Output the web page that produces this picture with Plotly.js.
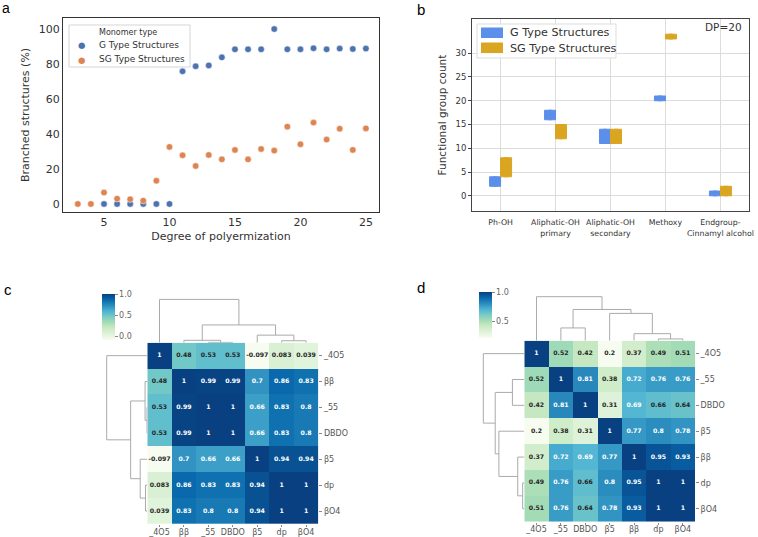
<!DOCTYPE html>
<html><head><meta charset="utf-8">
<script src="https://cdn.plot.ly/plotly-3.0.1.min.js"></script>
<style>html,body{margin:0;padding:0;background:#fff}#chart{width:758px;height:537px}</style>
</head><body><div id="chart"></div>
<script>
// ---------- Panel a data ----------
const dpG = [5,6,7,8,9,10,11,12,13,14,15,16,17,18,19,20,21,22,23,24,25];
const branchG = [0,0,0,0,0,0,75.8,78.7,79.2,83.8,88.4,88.4,88.4,100,88.4,88.4,89,88.4,88.8,88.6,88.8];
const dpSG = [3,4,5,6,7,8,9,10,11,12,13,14,15,16,17,18,19,20,21,22,23,24,25];
const branchSG = [0,0,6.5,3.0,2.7,1.9,13.3,32.6,27.8,21.7,28,25.5,30.9,25.5,31.4,30.5,44.2,34.1,46.5,36.8,43,30.9,43.2];
const seriesNames = ['G Type Structures','SG Type Structures'];
const legendTitleA = 'Monomer type';

// ---------- Panel b data ----------
const groups = ['Ph-OH','Aliphatic-OH<br>primary','Aliphatic-OH<br>secondary','Methoxy','Endgroup-<br>Cinnamyl alcohol'];
const gQ1 = [2,16,11,20,0];
const gMed = [3,17,12,20.5,0.5];
const gQ3 = [4,18,14,21,1];
const sgQ1 = [4,12,11,33,0];
const sgMed = [6,13,12,33.5,1];
const sgQ3 = [8,15,14,34,2];

// ---------- Panel c data ----------
const labelsC = ['_4O5','ββ','_55','DBDO','β5','dp','βO4'];
const corrC = [
  [1,0.48,0.53,0.53,-0.097,0.083,0.039],
  [0.48,1,0.99,0.99,0.7,0.86,0.83],
  [0.53,0.99,1,1,0.66,0.83,0.8],
  [0.53,0.99,1,1,0.66,0.83,0.8],
  [-0.097,0.7,0.66,0.66,1,0.94,0.94],
  [0.083,0.86,0.83,0.83,0.94,1,1],
  [0.039,0.83,0.8,0.8,0.94,1,1]
];
const linkC = [[2,3,0.007],[5,6,0.045],[1,7,0.055],[4,8,0.175],[9,10,0.41],[0,11,1.0]];

// ---------- Panel d data ----------
const labelsD = ['_4O5','_55','DBDO','β5','ββ','dp','βO4'];
const corrD = [
  [1,0.52,0.42,0.2,0.37,0.49,0.51],
  [0.52,1,0.81,0.38,0.72,0.76,0.76],
  [0.42,0.81,1,0.31,0.69,0.66,0.64],
  [0.2,0.38,0.31,1,0.77,0.8,0.78],
  [0.37,0.72,0.69,0.77,1,0.95,0.93],
  [0.49,0.76,0.66,0.8,0.95,1,1],
  [0.51,0.76,0.64,0.78,0.93,1,1]
];
const linkD = [[5,6,0.04],[4,7,0.16],[1,2,0.29],[3,8,0.62],[9,10,0.71],[0,11,1.0]];

// ---------- helpers ----------
const W = 758, H = 537;
const X = p => p / W;
const Y = p => 1 - p / H;
const colA = ['#4C72B0','#DD8452'];
const colB = ['#5b8fe9','#daa520'];
const gnbu = ['#f7fcf0','#e0f3db','#ccebc5','#a8ddb5','#7bccc4','#4eb3d3','#2b8cbe','#0868ac','#084081'];
const gnbuScale = gnbu.map((c, i) => [i / (gnbu.length - 1), c]);
function hex2rgb(h){return [parseInt(h.slice(1,3),16),parseInt(h.slice(3,5),16),parseInt(h.slice(5,7),16)];}
function cmap(t){
  t = Math.max(0, Math.min(1, t));
  const s = t * (gnbu.length - 1);
  const i = Math.min(gnbu.length - 2, Math.floor(s));
  const f = s - i;
  const a = hex2rgb(gnbu[i]), b = hex2rgb(gnbu[i+1]);
  return a.map((v, k) => v + (b[k] - v) * f);
}
function lum(rgb){
  const l = rgb.map(c => { c = c / 255; return c <= 0.03928 ? c / 12.92 : Math.pow((c + 0.055) / 1.055, 2.4); });
  return 0.2126 * l[0] + 0.7152 * l[1] + 0.0722 * l[2];
}
function fmt(v){ return String(Number(v.toPrecision(2))); }
function dendro(link, n){
  const pos = [], hgt = [];
  for (let i = 0; i < n; i++){ pos[i] = i; hgt[i] = 0; }
  const a = [], b = [];
  link.forEach((m, k) => {
    const l = m[0], r = m[1], h = m[2];
    a.push(pos[l], pos[l], pos[r], pos[r], null);
    b.push(hgt[l], h, h, hgt[r], null);
    pos[n + k] = (pos[l] + pos[r]) / 2; hgt[n + k] = h;
  });
  return {a, b};
}
function cellText(corr, xa, ya){
  const flat = corr.flat();
  const zmin = Math.min(...flat), zmax = Math.max(...flat);
  const xs = [], ys = [], tx = [], cols = [];
  corr.forEach((row, i) => row.forEach((v, j) => {
    xs.push(j); ys.push(i); tx.push(fmt(v));
    cols.push(lum(cmap((v - zmin) / (zmax - zmin))) > 0.408 ? '#262626' : '#ffffff');
  }));
  return {type:'scatter', mode:'text', x:xs, y:ys, text:tx, xaxis:xa, yaxis:ya,
    textfont:{size:6.2, color:cols, family:'DejaVu Sans', weight:'bold'},
    hoverinfo:'skip', showlegend:false};
}

const traces = [];
// Panel a
traces.push({type:'scatter', mode:'markers', x:dpG, y:branchG, name:seriesNames[0],
  marker:{color:colA[0], size:6.5, line:{color:'#fff', width:0.5}}, xaxis:'x', yaxis:'y'});
traces.push({type:'scatter', mode:'markers', x:dpSG, y:branchSG, name:seriesNames[1],
  marker:{color:colA[1], size:6.5, line:{color:'#fff', width:0.5}}, xaxis:'x', yaxis:'y'});

// Panel b
traces.push({type:'box', name:seriesNames[0], x:groups, q1:gQ1, median:gMed, q3:gQ3,
  lowerfence:gQ1, upperfence:gQ3, fillcolor:colB[0], line:{color:colB[0], width:1},
  whiskerwidth:0.3, xaxis:'x2', yaxis:'y2', hoverinfo:'skip'});
traces.push({type:'box', name:seriesNames[1], x:groups, q1:sgQ1, median:sgMed, q3:sgQ3,
  lowerfence:sgQ1, upperfence:sgQ3, fillcolor:colB[1], line:{color:colB[1], width:1},
  whiskerwidth:0.3, xaxis:'x2', yaxis:'y2', hoverinfo:'skip'});

// Panel c
const zc = corrC.flat();
traces.push({type:'heatmap', z:corrC, x:labelsC.map((_, i) => i), y:labelsC.map((_, i) => i),
  colorscale:gnbuScale, zmin:Math.min(...zc), zmax:Math.max(...zc), xaxis:'x3', yaxis:'y3', hoverinfo:'skip',
  colorbar:{x:X(102), xanchor:'left', y:Y(294.3), yanchor:'top', len:46, lenmode:'pixels',
    thickness:13, thicknessmode:'pixels', xpad:0, ypad:0, outlinewidth:0,
    tickvals:[0,0.5,1], tickformat:'.1f', ticks:'outside', ticklen:3, tickcolor:'#888',
    tickfont:{size:8, color:'#666'}}});
traces.push(cellText(corrC, 'x3', 'y3'));
const dC = dendro(linkC, labelsC.length);
traces.push({type:'scatter', mode:'lines', x:dC.a, y:dC.b, xaxis:'x4', yaxis:'y4',
  line:{color:'#aaaaaa', width:1}, hoverinfo:'skip', showlegend:false});
traces.push({type:'scatter', mode:'lines', x:dC.b, y:dC.a, xaxis:'x5', yaxis:'y5',
  line:{color:'#aaaaaa', width:1}, hoverinfo:'skip', showlegend:false});

// Panel d
const zd = corrD.flat();
traces.push({type:'heatmap', z:corrD, x:labelsD.map((_, i) => i), y:labelsD.map((_, i) => i),
  colorscale:gnbuScale, zmin:Math.min(...zd), zmax:Math.max(...zd), xaxis:'x6', yaxis:'y6', hoverinfo:'skip',
  colorbar:{x:X(479), xanchor:'left', y:Y(292.3), yanchor:'top', len:46, lenmode:'pixels',
    thickness:13, thicknessmode:'pixels', xpad:0, ypad:0, outlinewidth:0,
    tickvals:[0.5,1], tickformat:'.1f', ticks:'outside', ticklen:3, tickcolor:'#888',
    tickfont:{size:8, color:'#666'}}});
traces.push(cellText(corrD, 'x6', 'y6'));
const dD = dendro(linkD, labelsD.length);
traces.push({type:'scatter', mode:'lines', x:dD.a, y:dD.b, xaxis:'x7', yaxis:'y7',
  line:{color:'#aaaaaa', width:1}, hoverinfo:'skip', showlegend:false});
traces.push({type:'scatter', mode:'lines', x:dD.b, y:dD.a, xaxis:'x8', yaxis:'y8',
  line:{color:'#aaaaaa', width:1}, hoverinfo:'skip', showlegend:false});

const hmX = (dom, anchor, labels) => ({domain:dom, anchor:anchor, range:[-0.5, labels.length - 0.5],
  tickvals:labels.map((_, i) => i), ticktext:labels, ticks:'outside', ticklen:2, tickcolor:'#888',
  ticklabelstandoff:-2,
  showgrid:false, zeroline:false, showline:false, tickfont:{size:8, color:'#555'}});
const hmY = (dom, anchor, labels) => ({domain:dom, anchor:anchor, range:[labels.length - 0.5, -0.5],
  side:'right', tickvals:labels.map((_, i) => i), ticktext:labels, ticks:'outside', ticklen:3, tickcolor:'#888',
  showgrid:false, zeroline:false, showline:false, tickfont:{size:8, color:'#555'}});
const hid = (dom, anchor, range) => ({domain:dom, anchor:anchor, range:range, visible:false, showgrid:false, zeroline:false});

const scC = 43.3, srC = 40.6, scD = 44, srD = 41, ext = 1.15;

// manual legends (shapes + text)
const shapes = [
  {type:'rect', xref:'paper', yref:'paper', x0:X(69), x1:X(190), y0:Y(67), y1:Y(25),
   line:{color:'#d5d5d5', width:1}, fillcolor:'rgba(255,255,255,0.85)', layer:'above'},
  {type:'rect', xref:'paper', yref:'paper', x0:X(477), x1:X(616), y0:Y(58), y1:Y(24),
   line:{color:'#dddddd', width:1}, fillcolor:'rgba(255,255,255,0.85)', layer:'above'},
  {type:'rect', xref:'paper', yref:'paper', x0:X(481), x1:X(503), y0:Y(38), y1:Y(27.5),
   line:{width:0}, fillcolor:colB[0], layer:'above'},
  {type:'rect', xref:'paper', yref:'paper', x0:X(481), x1:X(503), y0:Y(53), y1:Y(42.5),
   line:{width:0}, fillcolor:colB[1], layer:'above'}
];
const ann = (text, px, py, opts) => Object.assign({text, x:X(px), y:Y(py), xref:'paper', yref:'paper',
  xanchor:'left', yanchor:'middle', showarrow:false}, opts);
const annotations = [
  ann('a', 0, 8, {font:{size:14, color:'#000', family:'Liberation Sans'}}),
  ann('b', 415, 9, {font:{size:15, color:'#000', family:'Liberation Sans'}}),
  ann('c', 2, 289, {font:{size:15, color:'#000', family:'Liberation Sans'}}),
  ann('d', 415, 287, {font:{size:15, color:'#000', family:'Liberation Sans'}}),
  ann('DP=20', 723, 26.7, {xanchor:'center', font:{size:10.5, color:'#333'}}),
  ann(legendTitleA, 97, 32, {font:{size:8, color:'#333'}}),
  ann('●', 81, 45.5, {xanchor:'center', font:{size:8.5, color:colA[0]}}),
  ann('●', 81, 59.5, {xanchor:'center', font:{size:8.5, color:colA[1]}}),
  ann(seriesNames[0], 97, 45.3, {font:{size:9, color:'#333'}}),
  ann(seriesNames[1], 97, 59.3, {font:{size:9, color:'#333'}}),
  ann(seriesNames[0], 508, 33, {font:{size:11.2, color:'#333'}}),
  ann(seriesNames[1], 508, 48, {font:{size:11.2, color:'#333'}})
];

const layout = {
  width:W, height:H, margin:{l:0, r:0, t:0, b:0}, paper_bgcolor:'#fff', plot_bgcolor:'#fff',
  font:{family:'DejaVu Sans', color:'#333'}, hovermode:false, showlegend:false,
  boxmode:'group', boxgap:0.6, boxgroupgap:0,
  xaxis:{domain:[X(63), X(379)], anchor:'y', range:[1.87, 26.0], tickvals:[5,10,15,20,25],
    showline:true, mirror:true, linecolor:'#333', linewidth:1, showgrid:false, zeroline:false, ticks:'',
    tickfont:{size:11, color:'#333'}, title:{text:'Degree of polyermization', font:{size:11, color:'#333'}, standoff:4}},
  yaxis:{domain:[Y(212), Y(18)], anchor:'x', range:[-4.6, 106.3], tickvals:[0,20,40,60,80,100],
    showline:true, mirror:true, linecolor:'#333', linewidth:1, showgrid:false, zeroline:false, ticks:'',
    tickfont:{size:11, color:'#333'}, title:{text:'Branched structures (%)', font:{size:11, color:'#333'}, standoff:6}},
  xaxis2:{domain:[X(472), X(749)], anchor:'y2', type:'category', range:[-0.52, 4.52],
    showline:true, mirror:true, linecolor:'#444', linewidth:1, showgrid:true, gridcolor:'#dcdcdc', zeroline:false,
    ticks:'', tickangle:0, ticklabelstandoff:4, tickfont:{size:7.8, color:'#333'}},
  yaxis2:{domain:[Y(211), Y(19)], anchor:'x2', range:[-3.2, 37.2], tickvals:[0,5,10,15,20,25,30],
    showline:true, mirror:true, linecolor:'#444', linewidth:1, showgrid:true, gridcolor:'#dcdcdc', zeroline:false,
    ticks:'outside', ticklen:3, tickcolor:'#444', tickfont:{size:8.5, color:'#333'},
    title:{text:'Functional group count', font:{size:10.5, color:'#333'}, standoff:6}},
  xaxis3:hmX([X(147.3), X(318.3)], 'y3', labelsC),
  yaxis3:hmY([Y(524), Y(342.7)], 'x3', labelsC),
  xaxis4:hid([X(147.3), X(318.3)], 'y4', [-0.5, 6.5]),
  yaxis4:hid([Y(342.7), Y(342.7 - ext * scC)], 'x4', [0, ext]),
  xaxis5:hid([X(147.3 - ext * srC), X(147.3)], 'y5', [ext, 0]),
  yaxis5:hid([Y(524), Y(342.7)], 'x5', [6.5, -0.5]),
  xaxis6:hmX([X(524.3), X(695)], 'y6', labelsD),
  yaxis6:hmY([Y(521.7), Y(340.7)], 'x6', labelsD),
  xaxis7:hid([X(524.3), X(695)], 'y7', [-0.5, 6.5]),
  yaxis7:hid([Y(340.7), Y(340.7 - ext * scD)], 'x7', [0, ext]),
  xaxis8:hid([X(524.3 - ext * srD), X(524.3)], 'y8', [ext, 0]),
  yaxis8:hid([Y(521.7), Y(340.7)], 'x8', [6.5, -0.5]),
  shapes, annotations
};

Plotly.newPlot('chart', traces, layout, {staticPlot:true, displayModeBar:false});
</script></body></html>
